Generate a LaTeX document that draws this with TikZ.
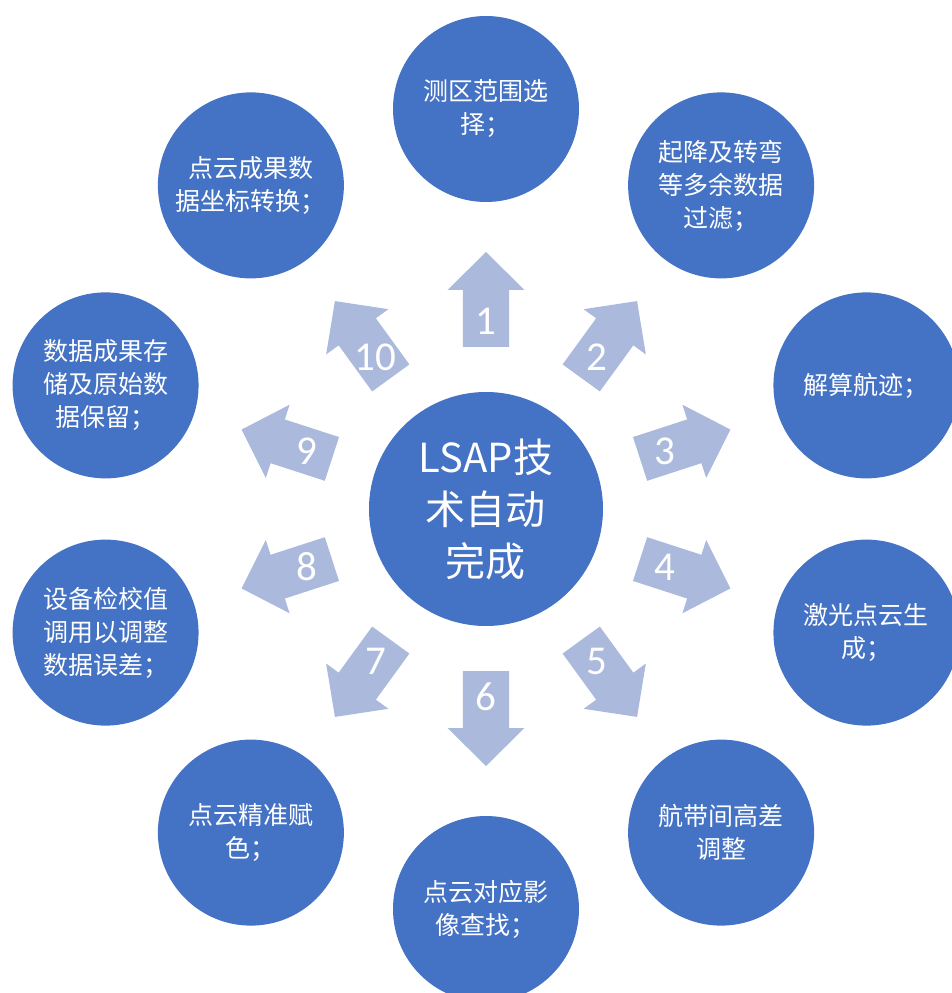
\documentclass[tikz,border=0pt]{standalone}
\usepackage{fontspec}
\usepackage{xcolor}
\setmainfont{Noto Sans CJK SC}
\newfontfamily\numfont{Carlito}
\definecolor{circblue}{RGB}{68,114,196}
\definecolor{arrblue}{RGB}{171,185,221}

\begin{document}
\begin{tikzpicture}[x=1pt, y=1pt,
    stage/.style={circle, fill=circblue, minimum size=186pt, inner sep=0pt,
        text=white, align=center, font=\fontsize{25}{33}\selectfont},
    hub/.style={stage, minimum size=234pt, font=\fontsize{40}{52}\selectfont},
    num/.style={text=white, inner sep=0pt, font=\numfont\fontsize{41}{41}\selectfont}]
    \useasboundingbox (-486,-484) rectangle (466,509);
    \clip (-486,-484) rectangle (466,509);

    % centre
    \node[hub] (hub) at (0,0) {LSAP技\\术自动\\完成};

    % ten steps, clockwise from the top
    \foreach \i/\txt in {1/{测区范围选\\择；},
                         2/{起降及转弯\\等多余数据\\过滤；},
                         3/{解算航迹；},
                         4/{激光点云生\\成；},
                         5/{航带间高差\\调整},
                         6/{点云对应影\\像查找；},
                         7/{点云精准赋\\色；},
                         8/{设备检校值\\调用以调整\\数据误差；},
                         9/{数据成果存\\储及原始数\\据保留；},
                         10/{点云成果数\\据坐标转换；}}{
        \pgfmathsetmacro{\a}{126-36*\i}
        \node[stage] (s\i) at (\a:400) {\txt};
        % block arrow
        \fill[arrblue, rotate=\a] (162,-23) -- (219,-23) -- (219,-38.5) -- (257,0)
            -- (219,38.5) -- (219,23) -- (162,23) -- cycle;
        \node[num] (n\i) at (\a:188) {\i};
    }
\end{tikzpicture}
\end{document}
